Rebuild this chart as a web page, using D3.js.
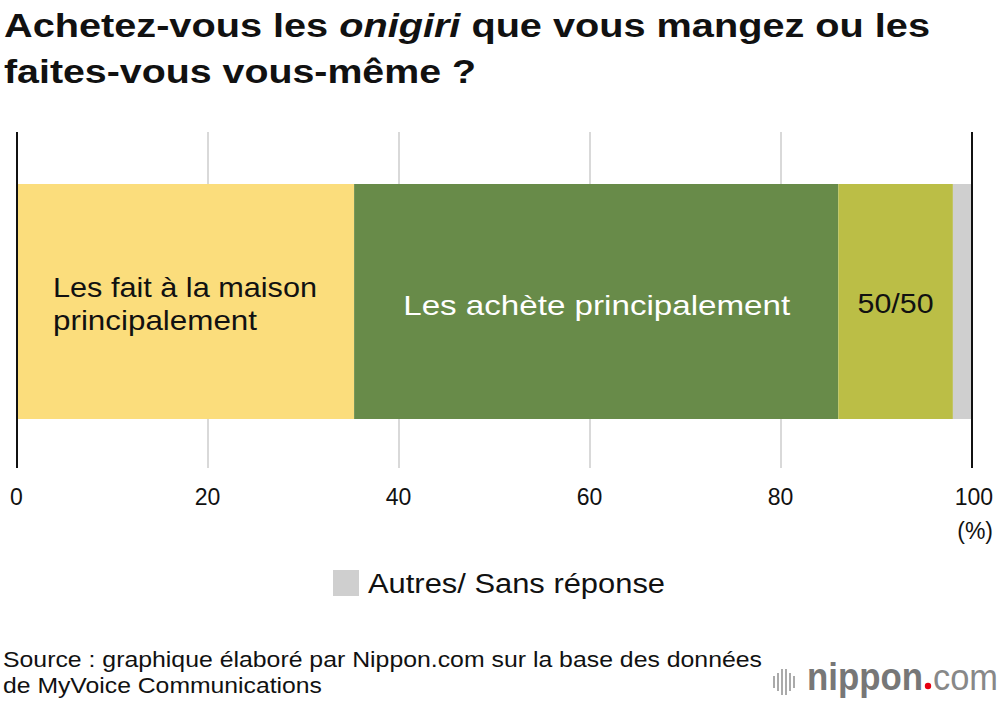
<!DOCTYPE html>
<html>
<head>
<meta charset="utf-8">
<script src="https://d3js.org/d3.v7.min.js"></script>
<style>
  body { margin: 0; background: white; }
  * { font-family: "Liberation Sans", Arial, Helvetica, sans-serif; }
</style>
</head>
<body>
<script>
// data
const categories = ["Les fait à la maison principalement", "Les achète principalement", "50/50", "Autres/ Sans réponse"];
const values = [35.3, 50.7, 12.0, 2.0];
const colors = ["#fbdd7c", "#688b49", "#bbbe46", "#cfcfcf"];
const ticks = [0, 20, 40, 60, 80, 100];

const width = 1000, height = 704;
const svg = d3.select("body").append("svg").attr("width", width).attr("height", height);

// stretch text to the width it has in the original (font there is wider)
function fit(sel, w) {
  return sel.attr("textLength", w).attr("lengthAdjust", "spacingAndGlyphs");
}

// title
const t1 = svg.append("text").attr("x", 4).attr("y", 37).attr("font-size", 33).attr("font-weight", "bold").attr("fill", "#111");
t1.append("tspan").text("Achetez-vous les ");
t1.append("tspan").attr("font-style", "italic").text("onigiri");
t1.append("tspan").text(" que vous mangez ou les");
fit(t1, 926);
fit(svg.append("text").attr("x", 4).attr("y", 83).attr("font-size", 33).attr("font-weight", "bold").attr("fill", "#111")
  .text("faites-vous vous-même ?"), 472);

const x = d3.scaleLinear().domain([0, 100]).range([17, 972]);
const yTop = 184, yBot = 419;

// grid
svg.append("g").selectAll("line").data(ticks.slice(1, -1)).enter().append("line")
  .attr("x1", d => x(d)).attr("x2", d => x(d))
  .attr("y1", 132).attr("y2", 468)
  .attr("stroke", "#cccccc").attr("stroke-width", 1.5);

// stacked bar
let cum = 0;
const segs = values.map((v, i) => { const s = {start: cum, v: v, i: i}; cum += v; return s; });

svg.append("g").selectAll("rect").data(segs).enter().append("rect")
  .attr("x", d => x(d.start))
  .attr("y", yTop)
  .attr("width", d => x(d.start + d.v) - x(d.start))
  .attr("height", yBot - yTop)
  .attr("fill", d => colors[d.i]);

// axis lines at 0 and 100
svg.append("g").selectAll("line").data([0, 100]).enter().append("line")
  .attr("x1", d => x(d)).attr("x2", d => x(d))
  .attr("y1", 132).attr("y2", 468)
  .attr("stroke", "#111").attr("stroke-width", 2);

// bar labels
fit(svg.append("text").attr("x", 53).attr("y", 297).attr("font-size", 28).attr("fill", "#111").text("Les fait à la maison"), 264);
fit(svg.append("text").attr("x", 53).attr("y", 330).attr("font-size", 28).attr("fill", "#111").text("principalement"), 204);

const mid1 = (x(segs[1].start) + x(segs[1].start + segs[1].v)) / 2;
fit(svg.append("text").attr("x", mid1 - 193).attr("y", 315).attr("font-size", 28).attr("fill", "white").text(categories[1]), 387);

const mid2 = (x(segs[2].start) + x(segs[2].start + segs[2].v)) / 2;
fit(svg.append("text").attr("x", mid2 - 38).attr("y", 313).attr("font-size", 28).attr("fill", "#111").text(categories[2]), 76);

// tick labels
svg.append("g").selectAll("text").data(ticks).enter().append("text")
  .attr("x", d => d == 100 ? x(d) + 21 : x(d) - 0.5)
  .attr("y", 505)
  .attr("text-anchor", d => d == 100 ? "end" : "middle")
  .attr("font-size", 23).attr("fill", "#111")
  .text(d => d);
svg.append("text").attr("x", 993).attr("y", 539).attr("text-anchor", "end")
  .attr("font-size", 23).attr("fill", "#111").text("(%)");

// legend
svg.append("rect").attr("x", 333).attr("y", 570).attr("width", 26).attr("height", 26).attr("fill", colors[3]);
fit(svg.append("text").attr("x", 368).attr("y", 593).attr("font-size", 27).attr("fill", "#111").text(categories[3]), 297);

// source
fit(svg.append("text").attr("x", 3).attr("y", 667).attr("font-size", 22).attr("fill", "#111")
  .text("Source : graphique élaboré par Nippon.com sur la base des données"), 759);
fit(svg.append("text").attr("x", 3).attr("y", 693).attr("font-size", 22).attr("fill", "#111")
  .text("de MyVoice Communications"), 319);

// logo
const logo = svg.append("g").attr("fill", "#aaa");
[773, 777, 781, 785, 789, 793].forEach(function(px, i) {
  const h = [12, 18, 26, 26, 18, 12][i];
  logo.append("rect").attr("x", px).attr("y", 682 - h / 2).attr("width", 2).attr("height", h);
});
fit(svg.append("text").attr("x", 807).attr("y", 690).attr("font-size", 38).attr("font-weight", "bold").attr("fill", "#777").text("nippon"), 116);
svg.append("circle").attr("cx", 928).attr("cy", 686).attr("r", 3.2).attr("fill", "#e60012");
fit(svg.append("text").attr("x", 933).attr("y", 690).attr("font-size", 36).attr("fill", "#888").text("com"), 65);
</script>
</body>
</html>
